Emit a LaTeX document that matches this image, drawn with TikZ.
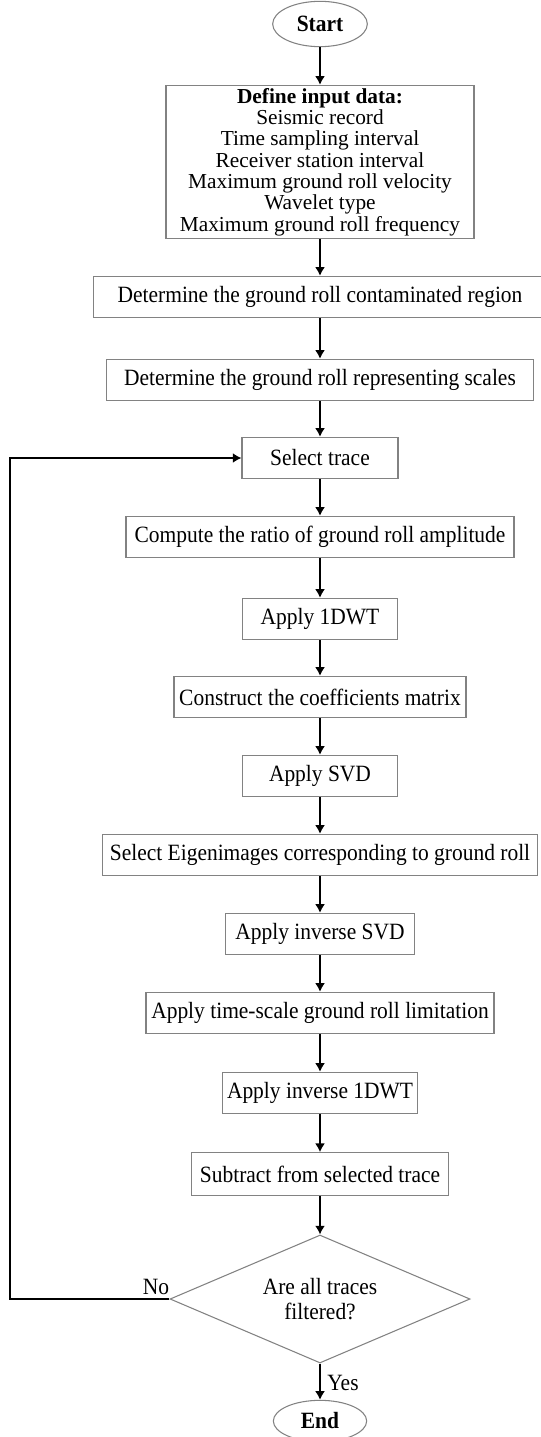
\documentclass[tikz,border=0pt]{standalone}
\usepackage{fontspec}
\setmainfont[FakeStretch=0.92]{Liberation Serif}
\newfontfamily\listfont{Liberation Serif}
\usetikzlibrary{shapes.geometric,arrows.meta}
\lineskiplimit=-20pt

\tikzset{every picture/.style={line width=0.75pt}}
\tikzset{
  stepbox/.style={draw={rgb, 255:red, 130; green, 130; blue, 130 }, line width=0.8pt, inner sep=0pt, minimum height=31pt, font=\fontsize{17.5}{14.5}\selectfont},
  termnode/.style={ellipse, draw={rgb, 255:red, 130; green, 130; blue, 130 }, line width=0.8pt, inner sep=0pt, font=\fontsize{17.5}{17.5}\selectfont\bfseries},
  flowline/.style={line width=2.2pt, -{Latex[length=6.5pt,width=7.5pt]}}
}

\begin{document}
\begin{tikzpicture}[x=0.75pt,y=0.75pt,yscale=-1,xscale=1]
\useasboundingbox (0,0) rectangle (540,1437);

%Shape: Ellipse [id:start]
\node [termnode, minimum width=71pt, minimum height=34pt] (start) at (320,24) {Start};
%Shape: Rectangle [id:input]
\node [stepbox, minimum width=231pt, minimum height=115pt, align=center, font=\listfont\fontsize{16}{16}\selectfont] (input) at (320,162) {\textbf{Define input data:}\\Seismic record\\Time sampling interval\\Receiver station interval\\Maximum ground roll velocity\\Wavelet type\\Maximum ground roll frequency};
%Shape: Rectangle [id:region]
\node [stepbox, minimum width=340pt] (region) at (320,297) {Determine the ground roll contaminated region};
%Shape: Rectangle [id:scales]
\node [stepbox, minimum width=320pt] (scales) at (320,380) {Determine the ground roll representing scales};
%Shape: Rectangle [id:select]
\node [stepbox, minimum width=117pt] (select) at (320,458) {Select trace};
%Shape: Rectangle [id:ratio]
\node [stepbox, minimum width=291pt] (ratio) at (320,537) {Compute the ratio of ground roll amplitude};
%Shape: Rectangle [id:dwt]
\node [stepbox, minimum width=116pt] (dwt) at (320,619) {Apply 1DWT};
%Shape: Rectangle [id:coeff]
\node [stepbox, minimum width=219pt] (coeff) at (320,697) {Construct the coefficients matrix};
%Shape: Rectangle [id:svd]
\node [stepbox, minimum width=116pt] (svd) at (320,776) {Apply SVD};
%Shape: Rectangle [id:eigen]
\node [stepbox, minimum width=326pt] (eigen) at (320,855) {Select Eigenimages corresponding to ground roll};
%Shape: Rectangle [id:isvd]
\node [stepbox, minimum width=142pt] (isvd) at (320,934) {Apply inverse SVD};
%Shape: Rectangle [id:limit]
\node [stepbox, minimum width=261pt] (limit) at (320,1013) {Apply time-scale ground roll limitation};
%Shape: Rectangle [id:idwt]
\node [stepbox, minimum width=146pt] (idwt) at (320,1093) {Apply inverse 1DWT};
%Shape: Rectangle [id:subtract]
\node [stepbox, minimum width=193pt, minimum height=32pt] (subtract) at (320,1174) {Subtract from selected trace};
%Shape: Diamond [id:check]
\node [stepbox, diamond, minimum width=225pt, minimum height=96pt, align=center, aspect=2.3, font=\fontsize{17.5}{19}\selectfont] (check) at (320,1299) {Are all traces\\filtered?};
%Shape: Ellipse [id:end]
\node [termnode, minimum width=70pt, minimum height=31pt] (end) at (320,1421) {End};

%Straight Lines
\draw [flowline] (start) -- (input);
\draw [flowline] (input) -- (region);
\draw [flowline] (region) -- (scales);
\draw [flowline] (scales) -- (select);
\draw [flowline] (select) -- (ratio);
\draw [flowline] (ratio) -- (dwt);
\draw [flowline] (dwt) -- (coeff);
\draw [flowline] (coeff) -- (svd);
\draw [flowline] (svd) -- (eigen);
\draw [flowline] (eigen) -- (isvd);
\draw [flowline] (isvd) -- (limit);
\draw [flowline] (limit) -- (idwt);
\draw [flowline] (idwt) -- (subtract);
\draw [flowline] (subtract) -- (check);
\draw [flowline] (check) -- (end);
%Loop back
\coordinate (loopcorner) at (10,1299);
\draw [flowline] (check.west) -- (loopcorner) |- (select.west);

% Text Node
\node [font=\fontsize{17.5}{17.5}\selectfont] (nolabel) at (156,1287) {No};
% Text Node
\node [font=\fontsize{17.5}{17.5}\selectfont] (yeslabel) at (343,1383) {Yes};

\end{tikzpicture}
\end{document}
